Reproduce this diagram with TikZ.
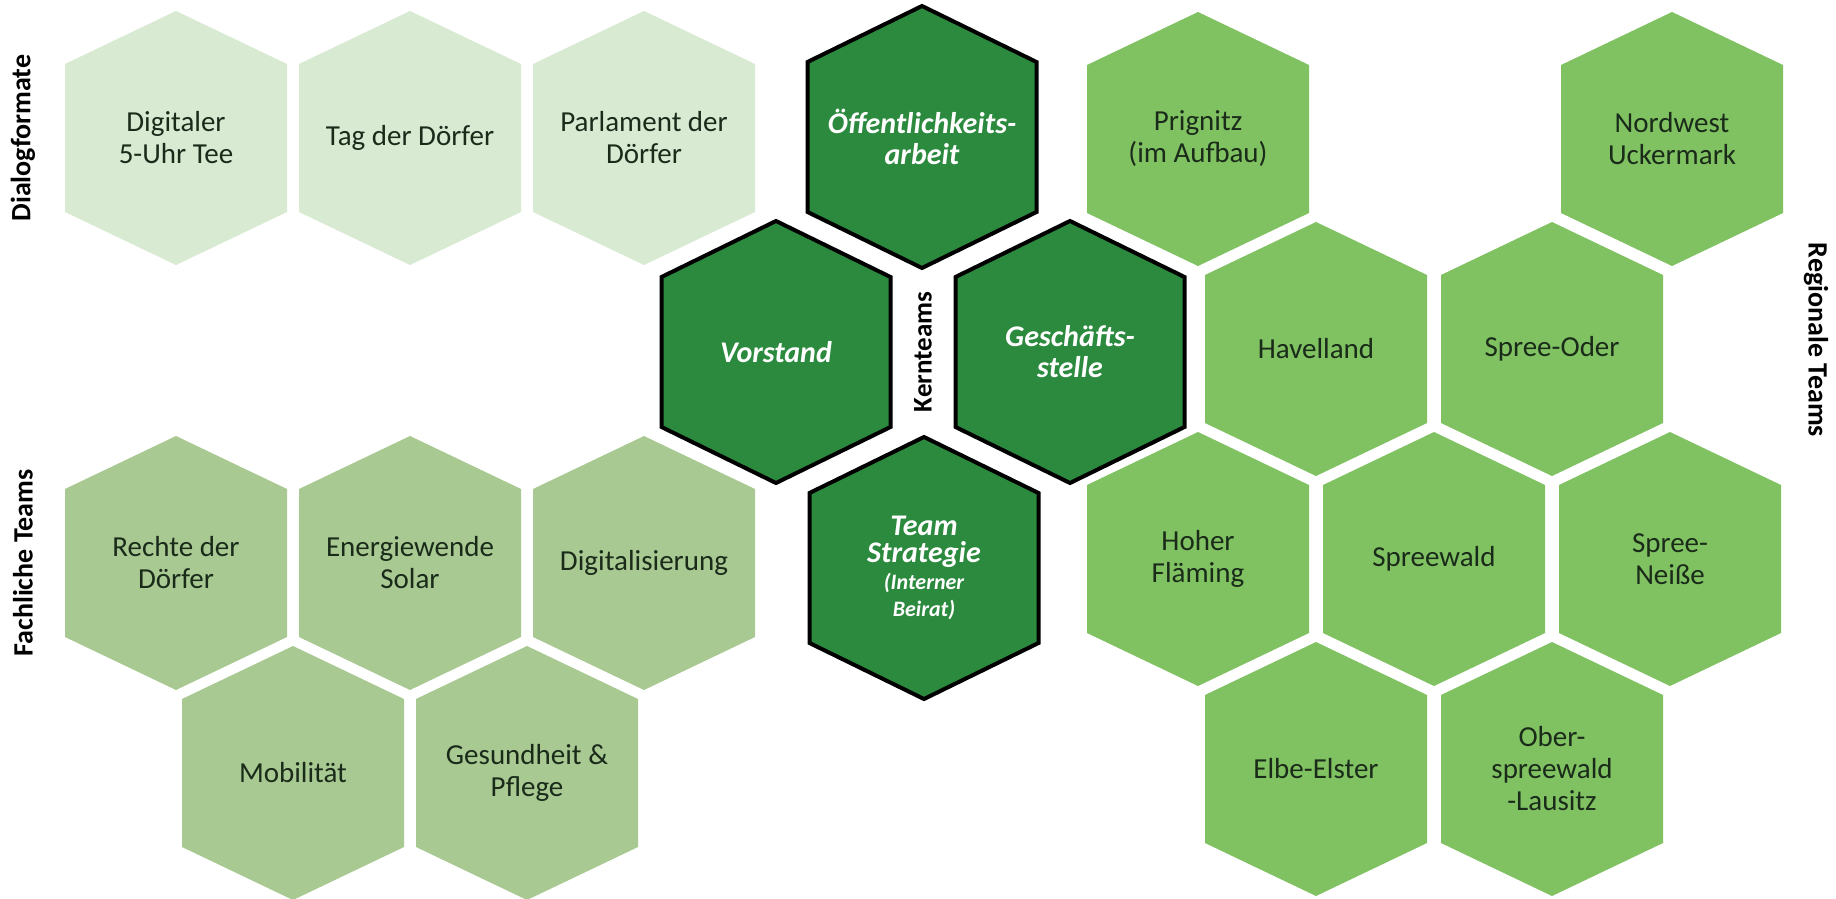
\documentclass[tikz,border=0pt]{standalone}
\usepackage{fontspec}
\setmainfont{Carlito}
\definecolor{dialoggreen}{HTML}{D9EAD3}
\definecolor{fachgreen}{HTML}{A9C993}
\definecolor{regiogreen}{HTML}{80C262}
\definecolor{coregreen}{HTML}{2C8A3E}
\definecolor{inkgreen}{HTML}{1A2B1A}
\newcommand{\smallcore}{\fontsize{22}{22}\selectfont}
\tikzset{
  cell/.style={insert path={++(0,-127) -- ++(111,53) -- ++(0,148) -- ++(-111,53) -- ++(-111,-53) -- ++(0,-148) -- cycle}},
  corecell/.style={insert path={++(0,-131) -- ++(114.5,56) -- ++(0,150) -- ++(-114.5,56) -- ++(-114.5,-56) -- ++(0,-150) -- cycle}},
  txt/.style={align=center, text=inkgreen, font=\fontsize{29}{32}\selectfont},
  coretxt/.style={align=center, text=white, font=\fontsize{30}{31}\selectfont\bfseries\itshape},
  side/.style={text=black, font=\fontsize{28}{30}\selectfont\bfseries},
  core/.style={fill=coregreen, draw=black, line width=4pt}
}
\begin{document}
\begin{tikzpicture}[x=1pt, y=-1pt]
  \useasboundingbox (0,0) rectangle (1836,899);
  \fill[white] (0,0) rectangle (1836,899);

  % Dialogformate
  \fill[dialoggreen] (176,138) node[txt] (dig) {Digitaler\\5-Uhr Tee} [cell];
  \fill[dialoggreen] (410,138) node[txt] (tag) {Tag der Dörfer} [cell];
  \fill[dialoggreen] (644,138) node[txt] (parl) {Parlament der\\Dörfer} [cell];
  \node[side, rotate=90] (dlab) at (23,138) {Dialogformate};

  % Fachliche Teams
  \fill[fachgreen] (176,563) node[txt] (recht) {Rechte der\\Dörfer} [cell];
  \fill[fachgreen] (410,563) node[txt] (energ) {Energiewende\\Solar} [cell];
  \fill[fachgreen] (644,563) node[txt] (digi) {Digitalisierung} [cell];
  \fill[fachgreen] (293,773) node[txt] (mobil) {Mobilität} [cell];
  \fill[fachgreen] (527,773) node[txt] (gesund) {Gesundheit \&\\Pflege} [cell];
  \node[side, rotate=90] (flab) at (23,563) {Fachliche Teams};

  % Kernteams
  \filldraw[core] (922,137) node[coretxt] (oeff) {Öffentlichkeits-\\arbeit} [corecell];
  \filldraw[core] (776,352) node[coretxt] (vorst) {Vorstand} [corecell];
  \filldraw[core] (1070,352) node[coretxt] (gesch) {Geschäfts-\\stelle} [corecell];
  \filldraw[core] (924,568) node[coretxt, font=\fontsize{30}{27}\selectfont\bfseries\itshape] (strat)
    {Team\\Strategie\\{\smallcore(Interner}\\{\smallcore Beirat)}} [corecell];
  \node[side, rotate=90, font=\fontsize{27}{30}\selectfont\bfseries] (klab) at (923,352) {Kernteams};

  % Regionale Teams
  \fill[regiogreen] (1198,139) node[txt] (prig) {Prignitz\\(im Aufbau)} [cell];
  \fill[regiogreen] (1672,139) node[txt] (ucker) {Nordwest\\Uckermark} [cell];
  \fill[regiogreen] (1316,349) node[txt] (havel) {Havelland} [cell];
  \fill[regiogreen] (1552,349) node[txt] (oder) {Spree-Oder} [cell];
  \fill[regiogreen] (1198,559) node[txt] (flaem) {Hoher\\Fläming} [cell];
  \fill[regiogreen] (1434,559) node[txt] (spree) {Spreewald} [cell];
  \fill[regiogreen] (1670,559) node[txt] (neisse) {Spree-\\Neiße} [cell];
  \fill[regiogreen] (1316,769) node[txt] (elbe) {Elbe-Elster} [cell];
  \fill[regiogreen] (1552,769) node[txt] (lausitz) {Ober-\\spreewald\\-Lausitz} [cell];
  \node[side, rotate=-90] (rlab) at (1816,340) {Regionale Teams};
\end{tikzpicture}
\end{document}
